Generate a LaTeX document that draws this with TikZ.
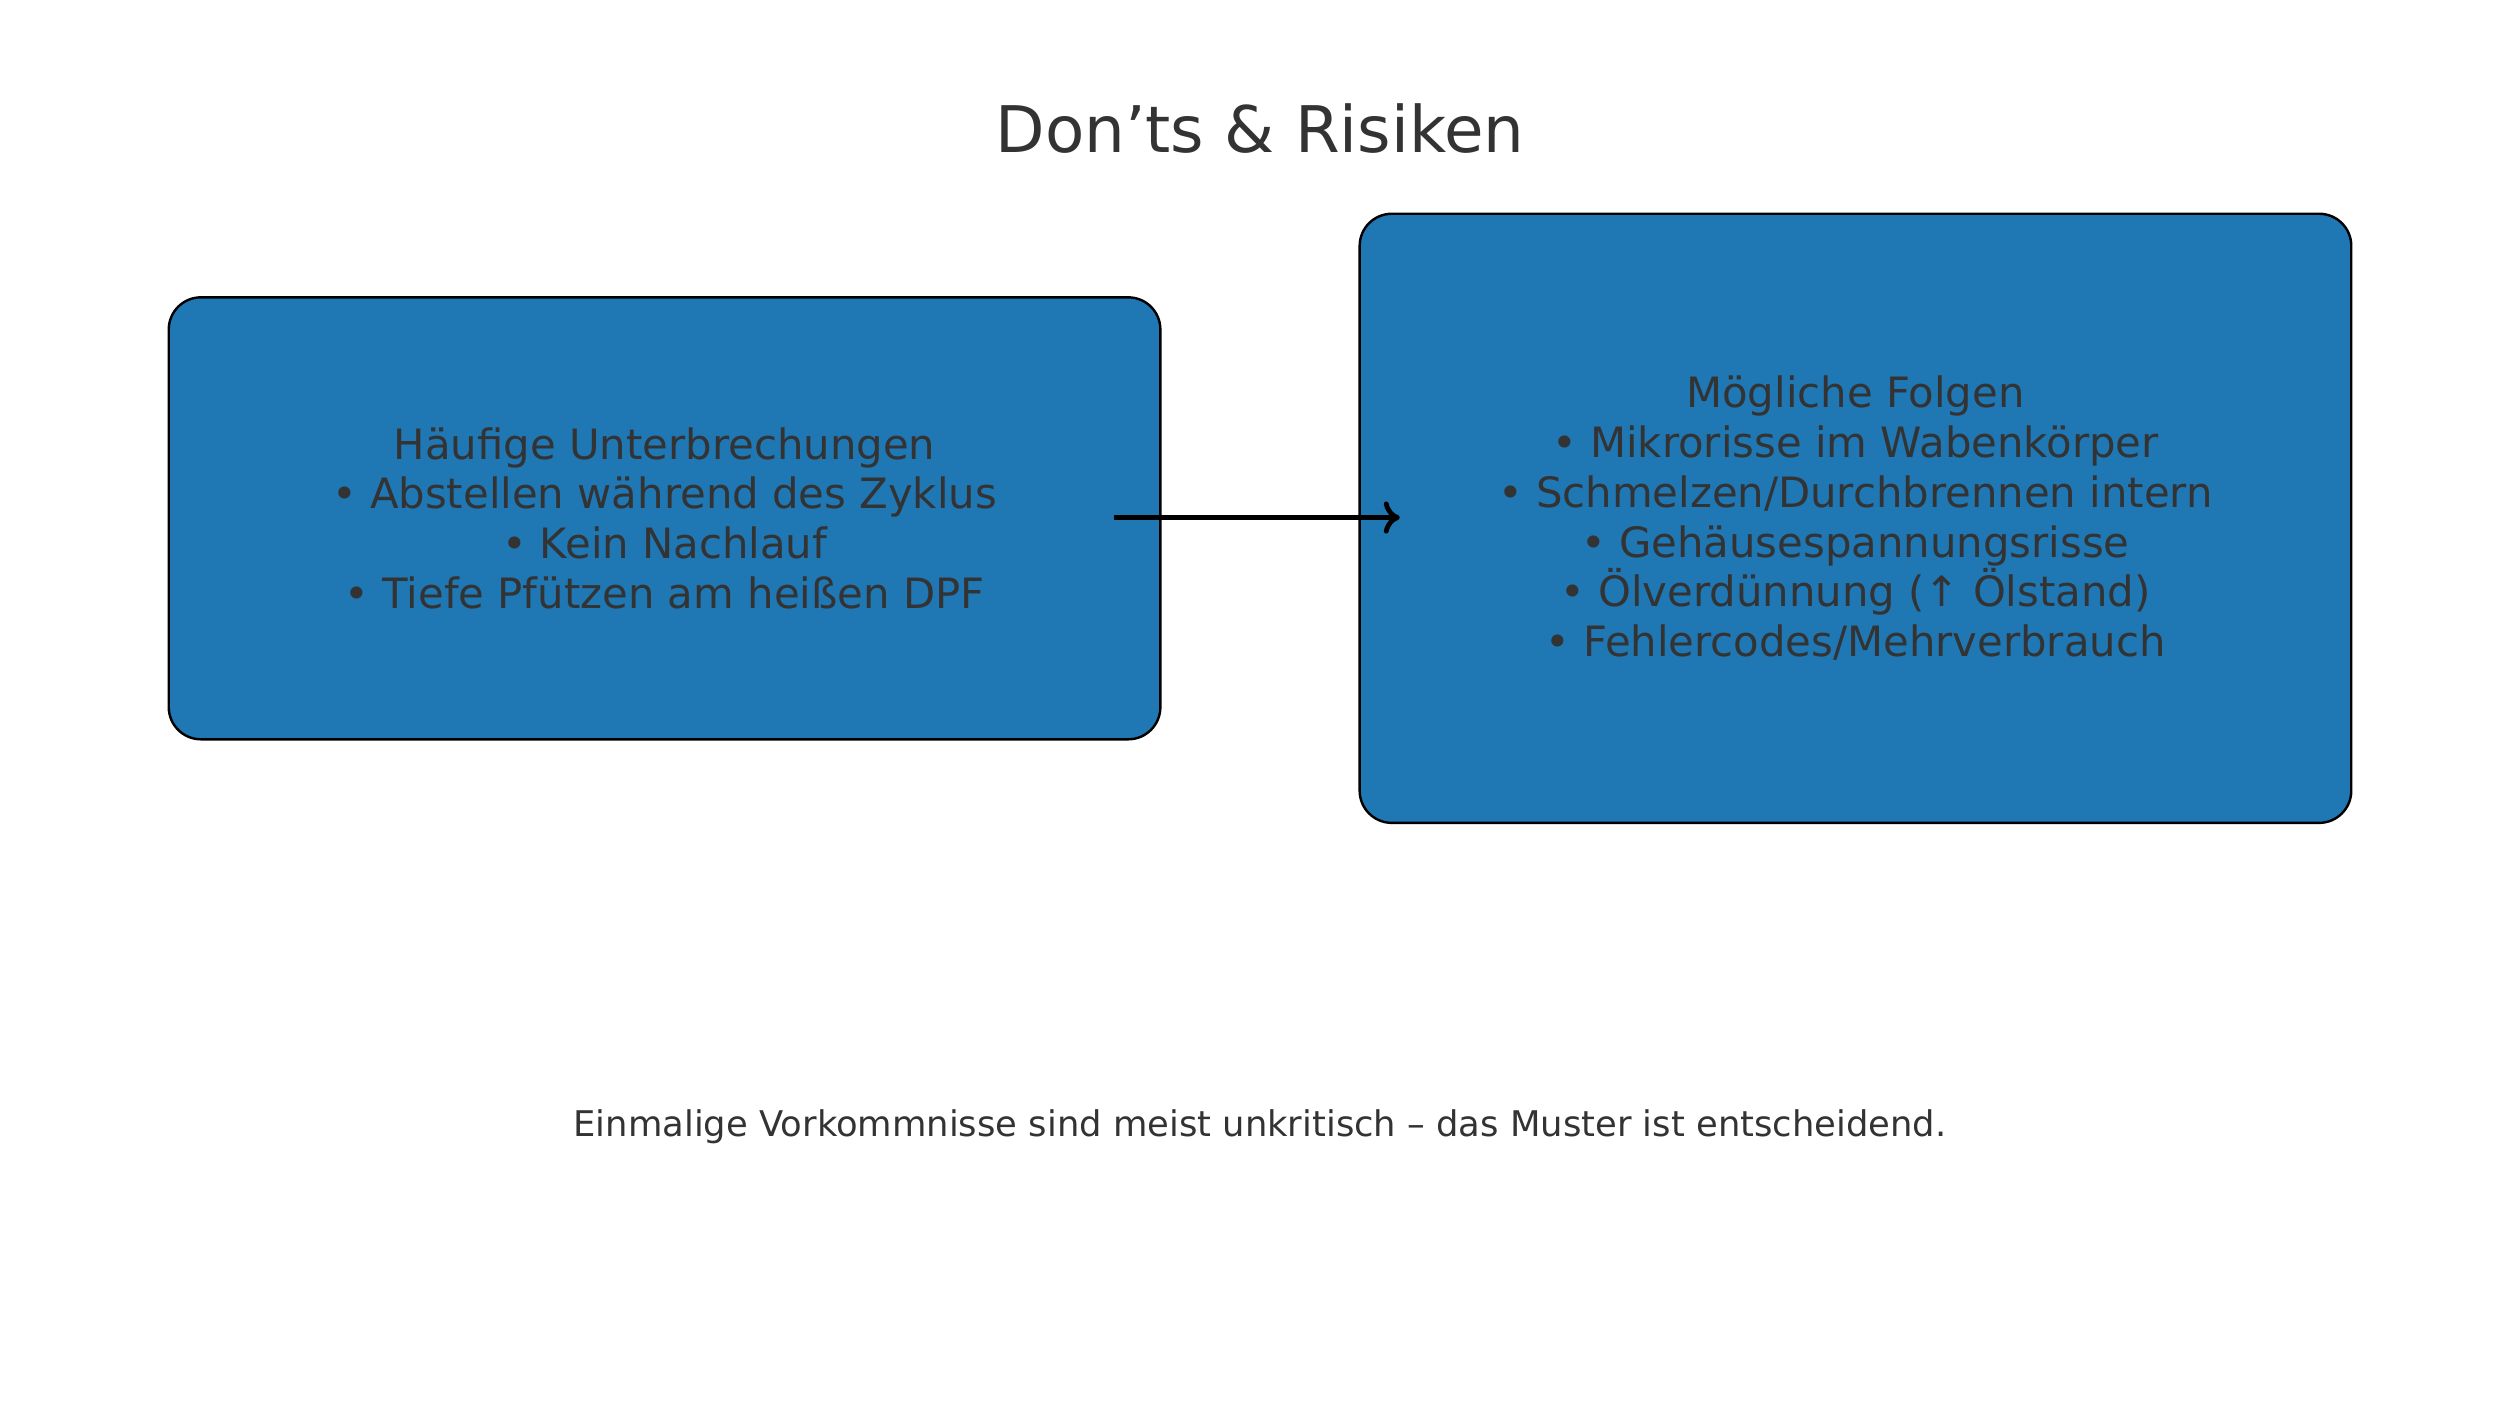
\documentclass[tikz,border=0pt]{standalone}
\usepackage{fontspec}
\usetikzlibrary{arrows.meta}
\setmainfont{DejaVu Sans}
\definecolor{boxblue}{HTML}{1F77B4}
\definecolor{txt}{HTML}{333333}
\begin{document}
\begin{tikzpicture}[x=0.6pt,y=-0.6pt,
  box/.style={draw=black,line width=0.9pt,fill=boxblue,rounded corners=12pt,text=txt,align=center,font=\fontsize{15.6}{18.6}\selectfont},
  conn/.style={-{To[length=6pt,width=12pt]},line width=1.8pt,black}]
\useasboundingbox (0,0) rectangle (1568,887);
\node[text=txt,font=\fontsize{24}{28}\selectfont] (title) at (784,80) {Don’ts \& Risiken};
\node[box,minimum width=617*0.6pt,minimum height=275*0.6pt] (left) at (413.5,322.5) {Häufige Unterbrechungen\\• Abstellen während des Zyklus\\• Kein Nachlauf\\• Tiefe Pfützen am heißen DPF};
\node[box,minimum width=617*0.6pt,minimum height=379*0.6pt] (right) at (1154.5,322.5) {Mögliche Folgen\\• Mikrorisse im Wabenkörper\\• Schmelzen/Durchbrennen intern\\• Gehäusespannungsrisse\\• Ölverdünnung (↑ Ölstand)\\• Fehlercodes/Mehrverbrauch};
\coordinate (a) at (693,322);
\coordinate (b) at (871,322);
\draw[conn] (a) -- (b);
\node[text=txt,font=\fontsize{13.2}{16}\selectfont] (foot) at (784,701) {Einmalige Vorkommnisse sind meist unkritisch – das Muster ist entscheidend.};
\end{tikzpicture}
\end{document}
